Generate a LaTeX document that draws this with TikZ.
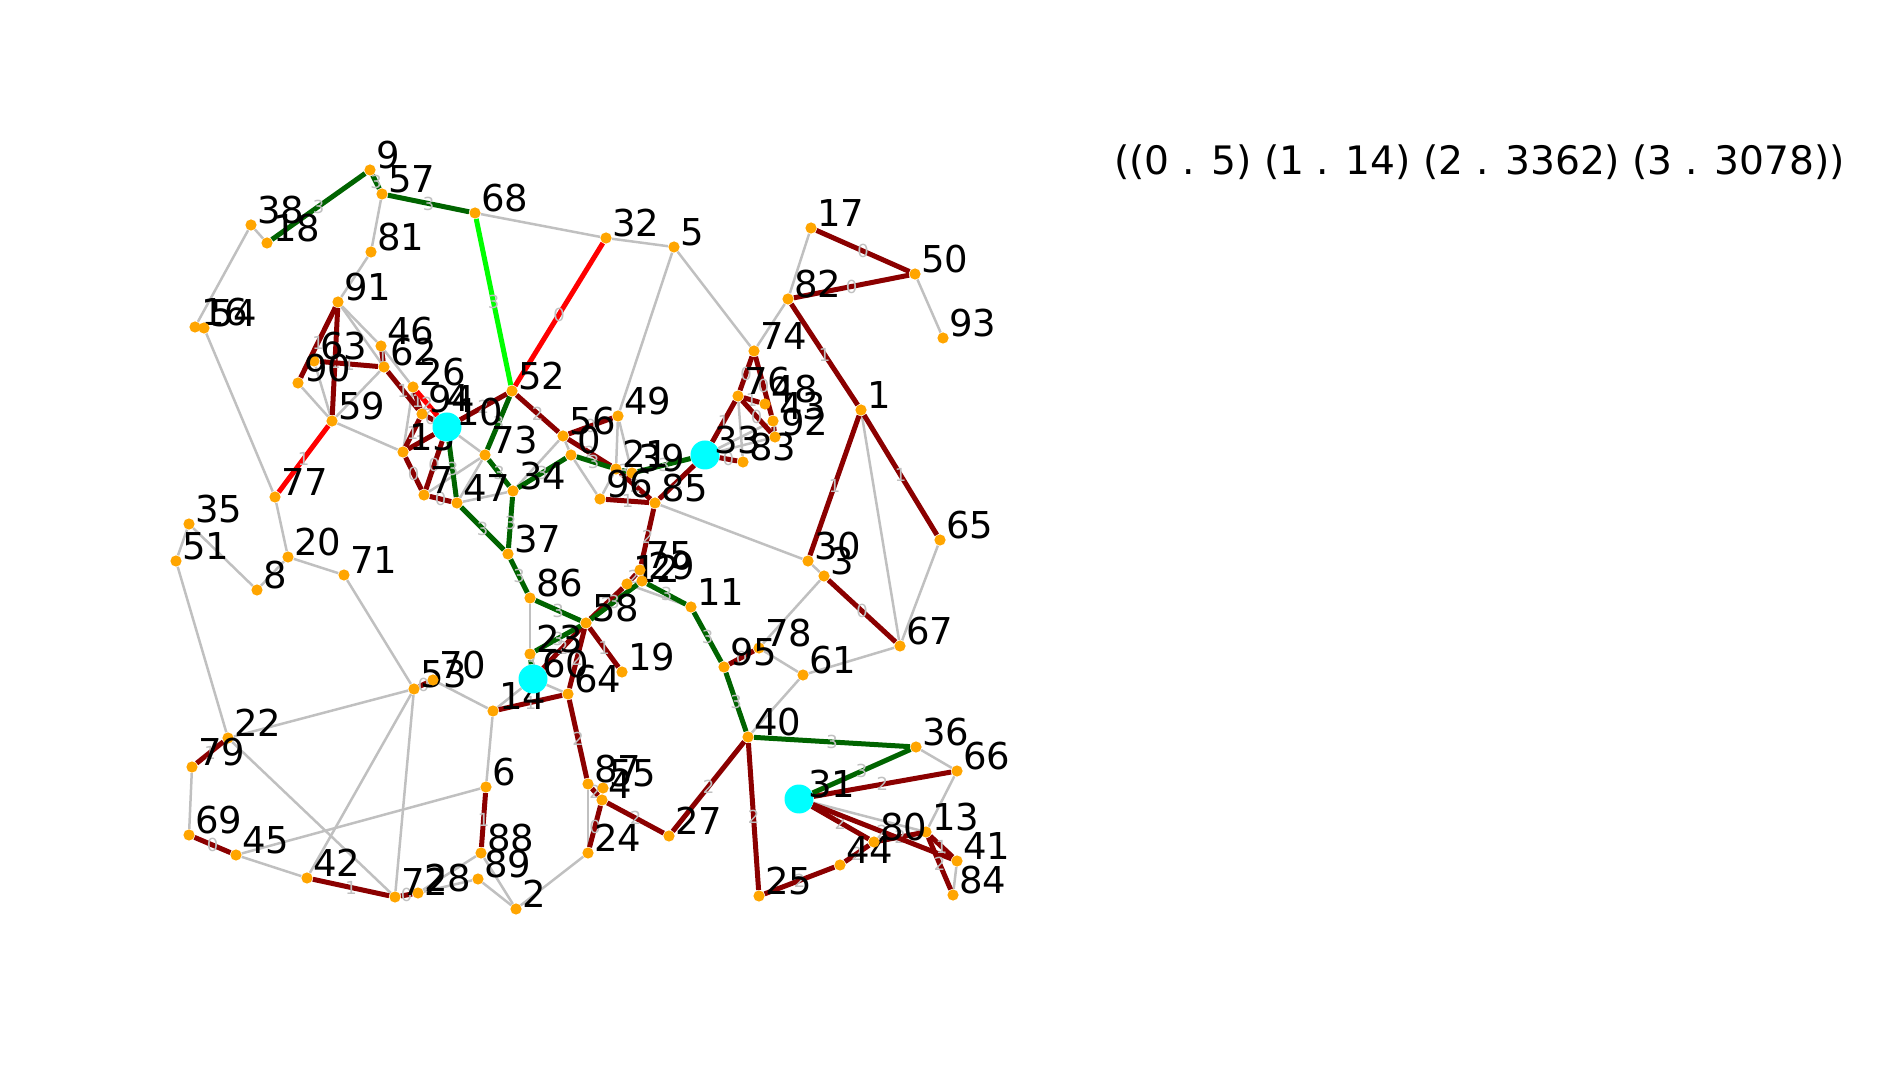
\documentclass[tikz,border=0pt]{standalone}
\usepackage{fontspec}
\setmainfont{DejaVu Sans}
\usepackage{xcolor}
\usepackage{tikz}
\usetikzlibrary{backgrounds}

\definecolor{idlegray}{RGB}{192,192,192}
\definecolor{mdarkred}{RGB}{139,0,0}
\definecolor{mdarkgreen}{RGB}{0,100,0}
\definecolor{mlime}{RGB}{0,255,0}
\definecolor{morange}{RGB}{255,165,0}
\definecolor{mcyan}{RGB}{0,255,255}

\begin{document}
\begin{tikzpicture}[x=0.5pt, y=-0.5pt,
    site/.style={circle, fill=morange, inner sep=0pt, minimum size=5.6pt},
    depot/.style={circle, fill=mcyan, inner sep=0pt, minimum size=14.5pt},
    every label/.style={font=\fontsize{18.5}{20}\selectfont, inner sep=0pt, yshift=7.5pt},
    idle/.style={draw=idlegray, line width=1.25pt},
    rdark/.style={draw=mdarkred, line width=2.5pt},
    rgreen/.style={draw=mdarkgreen, line width=2.5pt},
    rlime/.style={draw=mlime, line width=2.5pt},
    rred/.style={draw=red, line width=2.5pt},
    wt/.style={font=\fontsize{9}{10}\selectfont, text=idlegray, inner sep=0pt}]
    \useasboundingbox (0,0) rectangle (1887,1080);

    % customers
    \node[site, label=0:0] (n0) at (571,455) {}; \node[site, label=0:1] (n1) at (861,410) {}; \node[site, label=0:2] (n2) at (516,909) {};
    \node[site, label=0:3] (n3) at (824,576) {}; \node[site, label=0:4] (n4) at (602,800) {}; \node[site, label=0:5] (n5) at (674,247) {};
    \node[site, label=0:6] (n6) at (486,787) {}; \node[site, label=0:7] (n7) at (424,495) {}; \node[site, label=0:8] (n8) at (257,590) {};
    \node[site, label=0:9] (n9) at (370,170) {}; \node[site, label=0:11] (n11) at (691,607) {}; \node[site, label=0:12] (n12) at (627,584) {};
    \node[site, label=0:13] (n13) at (926,832) {}; \node[site, label=0:14] (n14) at (493,711) {}; \node[site, label=0:15] (n15) at (403,452) {};
    \node[site, label=0:16] (n16) at (195,327) {}; \node[site, label=0:17] (n17) at (811,228) {}; \node[site, label=0:18] (n18) at (267,243) {};
    \node[site, label=0:19] (n19) at (622,672) {}; \node[site, label=0:20] (n20) at (288,557) {}; \node[site, label=0:21] (n21) at (616,469) {};
    \node[site, label=0:22] (n22) at (228,738) {}; \node[site, label=0:23] (n23) at (530,654) {}; \node[site, label=0:24] (n24) at (588,853) {};
    \node[site, label=0:25] (n25) at (759,896) {}; \node[site, label=0:26] (n26) at (413,387) {}; \node[site, label=0:27] (n27) at (669,836) {};
    \node[site, label=0:28] (n28) at (418,893) {}; \node[site, label=0:29] (n29) at (642,581) {}; \node[site, label=0:30] (n30) at (808,561) {};
    \node[site, label=0:32] (n32) at (606,238) {}; \node[site, label=0:34] (n34) at (513,491) {}; \node[site, label=0:35] (n35) at (189,524) {};
    \node[site, label=0:36] (n36) at (916,747) {}; \node[site, label=0:37] (n37) at (508,554) {}; \node[site, label=0:38] (n38) at (251,225) {};
    \node[site, label=0:39] (n39) at (632,473) {}; \node[site, label=0:40] (n40) at (748,737) {}; \node[site, label=0:41] (n41) at (957,861) {};
    \node[site, label=0:42] (n42) at (307,878) {}; \node[site, label=0:43] (n43) at (773,421) {}; \node[site, label=0:44] (n44) at (840,865) {};
    \node[site, label=0:45] (n45) at (236,855) {}; \node[site, label=0:46] (n46) at (381,346) {}; \node[site, label=0:47] (n47) at (457,503) {};
    \node[site, label=0:48] (n48) at (765,404) {}; \node[site, label=0:49] (n49) at (618,416) {}; \node[site, label=0:50] (n50) at (915,274) {};
    \node[site, label=0:51] (n51) at (176,561) {}; \node[site, label=0:52] (n52) at (512,391) {}; \node[site, label=0:53] (n53) at (414,689) {};
    \node[site, label=0:54] (n54) at (204,328) {}; \node[site, label=0:55] (n55) at (603,788) {}; \node[site, label=0:56] (n56) at (563,436) {};
    \node[site, label=0:57] (n57) at (382,194) {}; \node[site, label=0:58] (n58) at (586,623) {}; \node[site, label=0:59] (n59) at (332,421) {};
    \node[site, label=0:61] (n61) at (803,675) {}; \node[site, label=0:62] (n62) at (384,367) {}; \node[site, label=0:63] (n63) at (314,361) {};
    \node[site, label=0:64] (n64) at (568,694) {}; \node[site, label=0:65] (n65) at (940,540) {}; \node[site, label=0:66] (n66) at (957,771) {};
    \node[site, label=0:67] (n67) at (900,646) {}; \node[site, label=0:68] (n68) at (475,213) {}; \node[site, label=0:69] (n69) at (189,835) {};
    \node[site, label=0:70] (n70) at (433,680) {}; \node[site, label=0:71] (n71) at (344,575) {}; \node[site, label=0:72] (n72) at (395,897) {};
    \node[site, label=0:73] (n73) at (485,455) {}; \node[site, label=0:74] (n74) at (754,351) {}; \node[site, label=0:75] (n75) at (640,570) {};
    \node[site, label=0:76] (n76) at (738,396) {}; \node[site, label=0:77] (n77) at (275,497) {}; \node[site, label=0:78] (n78) at (759,648) {};
    \node[site, label=0:79] (n79) at (192,767) {}; \node[site, label=0:80] (n80) at (874,842) {}; \node[site, label=0:81] (n81) at (371,252) {};
    \node[site, label=0:82] (n82) at (788,299) {}; \node[site, label=0:83] (n83) at (743,462) {}; \node[site, label=0:84] (n84) at (953,895) {};
    \node[site, label=0:85] (n85) at (655,503) {}; \node[site, label=0:86] (n86) at (530,598) {}; \node[site, label=0:87] (n87) at (588,784) {};
    \node[site, label=0:88] (n88) at (481,853) {}; \node[site, label=0:89] (n89) at (478,879) {}; \node[site, label=0:90] (n90) at (298,383) {};
    \node[site, label=0:91] (n91) at (338,302) {}; \node[site, label=0:92] (n92) at (775,437) {}; \node[site, label=0:93] (n93) at (943,338) {};
    \node[site, label=0:94] (n94) at (422,414) {}; \node[site, label=0:95] (n95) at (724,667) {}; \node[site, label=0:96] (n96) at (600,499) {};

    % depots
    \node[depot, label={[xshift=-3pt]0:10}] (n10) at (447,427) {}; \node[depot, label={[xshift=-3pt]0:33}] (n33) at (705,455) {};
    \node[depot, label={[xshift=-3pt]0:60}] (n60) at (533,679) {}; \node[depot, label={[xshift=-3pt]0:31}] (n31) at (799,799) {};
    \node[font=\fontsize{18.5}{20}\selectfont, anchor=west, inner sep=0pt] (tag4) at (446,398) {4};

    \node[font=\fontsize{19.6}{24}\selectfont, anchor=west, inner sep=0pt] (result) at (1114,162) {((0 . 5) (1 . 14) (2 . 3362) (3 . 3078))};

    \begin{scope}[on background layer]
    % unused edges
    \draw[idle] (n57) -- (n81); \draw[idle] (n68) -- (n32); \draw[idle] (n38) -- (n18); \draw[idle] (n38) -- (n16); \draw[idle] (n54) -- (n77);
    \draw[idle] (n81) -- (n91); \draw[idle] (n91) -- (n46); \draw[idle] (n91) -- (n62); \draw[idle] (n59) -- (n90); \draw[idle] (n59) -- (n63);
    \draw[idle] (n59) -- (n62); \draw[idle] (n59) -- (n15); \draw[idle] (n46) -- (n26); \draw[idle] (n15) -- (n26); \draw[idle] (n10) -- (n73);
    \draw[idle] (n73) -- (n7); \draw[idle] (n73) -- (n47); \draw[idle] (n47) -- (n34); \draw[idle] (n34) -- (n56); \draw[idle] (n56) -- (n0);
    \draw[idle] (n0) -- (n96); \draw[idle] (n96) -- (n21); \draw[idle] (n49) -- (n21); \draw[idle] (n49) -- (n39); \draw[idle] (n49) -- (n5);
    \draw[idle] (n32) -- (n5); \draw[idle] (n5) -- (n74); \draw[idle] (n74) -- (n82); \draw[idle] (n82) -- (n17); \draw[idle] (n50) -- (n93);
    \draw[idle] (n1) -- (n67); \draw[idle] (n76) -- (n83); \draw[idle] (n33) -- (n43); \draw[idle] (n33) -- (n92); \draw[idle] (n85) -- (n30);
    \draw[idle] (n30) -- (n3); \draw[idle] (n3) -- (n78); \draw[idle] (n78) -- (n61); \draw[idle] (n61) -- (n67); \draw[idle] (n61) -- (n40);
    \draw[idle] (n67) -- (n65); \draw[idle] (n12) -- (n11); \draw[idle] (n86) -- (n23); \draw[idle] (n60) -- (n14); \draw[idle] (n60) -- (n64);
    \draw[idle] (n14) -- (n70); \draw[idle] (n14) -- (n6); \draw[idle] (n87) -- (n24); \draw[idle] (n24) -- (n2); \draw[idle] (n88) -- (n2);
    \draw[idle] (n89) -- (n2); \draw[idle] (n28) -- (n88); \draw[idle] (n28) -- (n89); \draw[idle] (n45) -- (n6); \draw[idle] (n45) -- (n42);
    \draw[idle] (n53) -- (n42); \draw[idle] (n53) -- (n72); \draw[idle] (n22) -- (n72); \draw[idle] (n22) -- (n53); \draw[idle] (n22) -- (n51);
    \draw[idle] (n51) -- (n35); \draw[idle] (n35) -- (n8); \draw[idle] (n8) -- (n20); \draw[idle] (n77) -- (n20); \draw[idle] (n20) -- (n71);
    \draw[idle] (n71) -- (n53); \draw[idle] (n79) -- (n69); \draw[idle] (n36) -- (n66); \draw[idle] (n66) -- (n13); \draw[idle] (n31) -- (n13);
    \draw[idle] (n41) -- (n84);

    % route edges
    \draw[rdark] (n91) -- node[wt] {1} (n90); \draw[rdark] (n91) -- node[wt] {1} (n59); \draw[rdark] (n63) -- node[wt] {1} (n62);
    \draw[rdark] (n46) -- node[wt] {1} (n62); \draw[rdark] (n62) -- node[wt] {1} (n94); \draw[rdark] (n26) -- node[wt] {1} (n94);
    \draw[rdark] (n94) -- node[wt] {0} (n10); \draw[rdark] (n10) -- node[wt] {2} (n52); \draw[rdark] (n15) -- node[wt] {1} (n10);
    \draw[rdark] (n15) -- node[wt] {1} (n94); \draw[rdark] (n15) -- node[wt] {0} (n7); \draw[rdark] (n10) -- node[wt] {0} (n7);
    \draw[rdark] (n7) -- node[wt] {0} (n47); \draw[rdark] (n52) -- node[wt] {2} (n56); \draw[rdark] (n56) -- node[wt] {0} (n49);
    \draw[rdark] (n56) -- node[wt] {2} (n21); \draw[rdark] (n21) -- node[wt] {2} (n85); \draw[rdark] (n96) -- node[wt] {1} (n85);
    \draw[rdark] (n85) -- node[wt] {2} (n33); \draw[rdark] (n33) -- node[wt] {0} (n83); \draw[rdark] (n33) -- node[wt] {1} (n76);
    \draw[rdark] (n74) -- node[wt] {0} (n76); \draw[rdark] (n74) -- node[wt] {0} (n43); \draw[rdark] (n76) -- node[wt] {1} (n48);
    \draw[rdark] (n76) -- node[wt] {0} (n92); \draw[rdark] (n43) -- node[wt] {1} (n92); \draw[rdark] (n17) -- node[wt] {0} (n50);
    \draw[rdark] (n82) -- node[wt] {0} (n50); \draw[rdark] (n82) -- node[wt] {1} (n1); \draw[rdark] (n1) -- node[wt] {1} (n30);
    \draw[rdark] (n1) -- node[wt] {1} (n65); \draw[rdark] (n3) -- node[wt] {0} (n67); \draw[rdark] (n95) -- node[wt] {0} (n78);
    \draw[rdark] (n85) -- node[wt] {2} (n75); \draw[rdark] (n75) -- node[wt] {2} (n12); \draw[rdark] (n12) -- node[wt] {2} (n58);
    \draw[rdark] (n58) -- node[wt] {2} (n60); \draw[rdark] (n58) -- node[wt] {2} (n64); \draw[rdark] (n58) -- node[wt] {1} (n19);
    \draw[rdark] (n14) -- node[wt] {1} (n64); \draw[rdark] (n64) -- node[wt] {2} (n87); \draw[rdark] (n87) -- node[wt] {2} (n4);
    \draw[rdark] (n4) -- node[wt] {2} (n27); \draw[rdark] (n4) -- node[wt] {0} (n24); \draw[rdark] (n27) -- node[wt] {2} (n40);
    \draw[rdark] (n40) -- node[wt] {2} (n25); \draw[rdark] (n25) -- node[wt] {2} (n44); \draw[rdark] (n44) -- node[wt] {2} (n80);
    \draw[rdark] (n80) -- node[wt] {2} (n13); \draw[rdark] (n31) -- node[wt] {2} (n80); \draw[rdark] (n31) -- node[wt] {2} (n41);
    \draw[rdark] (n31) -- node[wt] {2} (n66); \draw[rdark] (n13) -- node[wt] {1} (n41); \draw[rdark] (n13) -- node[wt] {2} (n84);
    \draw[rdark] (n53) -- node[wt] {0} (n70); \draw[rdark] (n72) -- node[wt] {0} (n28); \draw[rdark] (n42) -- node[wt] {1} (n72);
    \draw[rdark] (n69) -- node[wt] {0} (n45); \draw[rdark] (n22) -- node[wt] {1} (n79); \draw[rdark] (n6) -- node[wt] {1} (n88);

    \draw[rgreen] (n9) -- node[wt] {3} (n18); \draw[rgreen] (n9) -- node[wt] {3} (n57); \draw[rgreen] (n57) -- node[wt] {3} (n68);
    \draw[rgreen] (n52) -- node[wt] {3} (n73); \draw[rgreen] (n73) -- node[wt] {3} (n34); \draw[rgreen] (n34) -- node[wt] {3} (n0);
    \draw[rgreen] (n0) -- node[wt] {3} (n21); \draw[rgreen] (n21) -- node[wt] {3} (n39); \draw[rgreen] (n39) -- node[wt] {3} (n33);
    \draw[rgreen] (n10) -- node[wt] {3} (n47); \draw[rgreen] (n47) -- node[wt] {3} (n37); \draw[rgreen] (n34) -- node[wt] {3} (n37);
    \draw[rgreen] (n37) -- node[wt] {3} (n86); \draw[rgreen] (n86) -- node[wt] {3} (n58); \draw[rgreen] (n58) -- node[wt] {3} (n23);
    \draw[rgreen] (n23) -- node[wt] {3} (n60); \draw[rgreen] (n58) -- node[wt] {3} (n29); \draw[rgreen] (n29) -- node[wt] {3} (n11);
    \draw[rgreen] (n11) -- node[wt] {3} (n95); \draw[rgreen] (n95) -- node[wt] {3} (n40); \draw[rgreen] (n40) -- node[wt] {3} (n36);
    \draw[rgreen] (n36) -- node[wt] {3} (n31);

    \draw[rlime] (n68) -- node[wt] {3} (n52);
    \draw[rred] (n52) -- node[wt] {0} (n32); \draw[rred] (n59) -- node[wt] {1} (n77); \draw[rred] (n26) -- node[wt] {2} (n10);
    \end{scope}
\end{tikzpicture}
\end{document}
